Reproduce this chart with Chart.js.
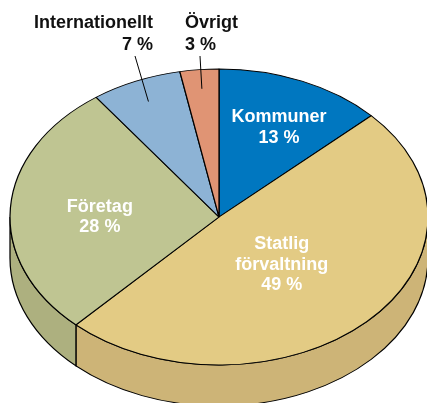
<!DOCTYPE html>
<html>
<head>
<meta charset="utf-8">
<script src="https://cdn.jsdelivr.net/npm/chart.js@4.4.0/dist/chart.umd.min.js"></script>
<style>
    html, body { margin: 0; padding: 0; background: #fff; overflow: hidden; }
    #wrap { width: 427px; height: 403px; position: relative; }
</style>
</head>
<body>
<div id="wrap"><canvas id="pie"></canvas></div>
<script>
// Share of total, percent
const categories = ['Kommuner', 'Statlig förvaltning', 'Företag', 'Internationellt', 'Övrigt'];
const labelLines = [['Kommuner'], ['Statlig', 'förvaltning'], ['Företag'], ['Internationellt'], ['Övrigt']];
const shares = [13, 49, 28, 7, 3];

const topColors = ['#0077c0', '#e3cb84', '#bfc592', '#8db3d5', '#e09474'];
const sideColors = ['#005f99', '#cdb477', '#adb07f', '#7a9cbb', '#c77f62'];

// Ellipse on screen (tilted disc)
const view = { cx: 219, cy: 217, rx: 209, ry: 148, depth: 41 };

// Inside labels: radial fraction along slice mid angle; outside labels: text anchor
const labelLayout = [
    { inside: true, f: 0.67, da: 2 },
    { inside: true, f: 0.44, da: 2 },
    { inside: true, f: 0.57, da: -3.6 },
    { inside: false, tx: 153, ty: 23, align: 'right', lx: 135, ly: 56, f: 0.85 },
    { inside: false, tx: 185, ty: 23, align: 'left', lx: 200, ly: 56, f: 0.87 }
];

function toScreen(angle, f) {
    return {
        x: view.cx + view.rx * f * Math.cos(angle),
        y: view.cy + view.ry * f * Math.sin(angle)
    };
}

const tiltPlugin = {
    id: 'tilt',
    beforeDatasetsDraw(chart) {
        const ctx = chart.ctx;
        const arcs = chart.getDatasetMeta(0).data;
        const first = arcs[0];
        const R = first.outerRadius;
        const sx = view.rx / R, sy = view.ry / R;
        ctx.save();
        ctx.translate(view.cx, view.cy);
        ctx.scale(sx, sy);
        ctx.translate(-first.x, -first.y);

        // side wall, front half only
        const d = view.depth / sy;
        arcs.forEach((arc, i) => {
            const s = Math.max(arc.startAngle, 0);
            const e = Math.min(arc.endAngle, Math.PI);
            if (e <= s) return;
            ctx.beginPath();
            ctx.arc(arc.x, arc.y, R, s, e);
            ctx.lineTo(arc.x + R * Math.cos(e), arc.y + R * Math.sin(e) + d);
            ctx.arc(arc.x, arc.y + d, R, e, s, true);
            ctx.closePath();
            ctx.fillStyle = sideColors[i];
            ctx.fill();
            ctx.lineWidth = 1.2;
            ctx.strokeStyle = '#000';
            ctx.stroke();
        });
    },
    afterDatasetsDraw(chart) {
        chart.ctx.restore();
    },
    afterDraw(chart) {
        const ctx = chart.ctx;
        const arcs = chart.getDatasetMeta(0).data;
        ctx.save();
        ctx.textAlign = 'center';
        ctx.textBaseline = 'middle';
        arcs.forEach((arc, i) => {
            const lay = labelLayout[i];
            const mid = (arc.startAngle + arc.endAngle) / 2;
            const lines = labelLines[i].concat([shares[i] + ' %']);
            if (lay.inside) {
                const p = toScreen(mid + lay.da * Math.PI / 180, lay.f);
                ctx.fillStyle = '#fff';
                ctx.font = 'bold 18px "Liberation Sans", Arial, sans-serif';
                const lh = 20.5;
                const y0 = p.y - (lines.length - 1) * lh / 2;
                lines.forEach((t, k) => ctx.fillText(t, p.x, y0 + k * lh));
            } else {
                const p = toScreen(mid, lay.f);
                ctx.beginPath();
                ctx.moveTo(lay.lx, lay.ly);
                ctx.lineTo(p.x, p.y);
                ctx.lineWidth = 1;
                ctx.strokeStyle = '#000';
                ctx.stroke();
                ctx.fillStyle = '#111';
                ctx.font = 'bold 18px "Liberation Sans", Arial, sans-serif';
                ctx.textAlign = lay.align;
                lines.forEach((t, k) => ctx.fillText(t, lay.tx, lay.ty + k * 22));
                ctx.textAlign = 'center';
            }
        });
        ctx.restore();
    }
};

new Chart(document.getElementById('pie'), {
    type: 'pie',
    data: {
        labels: categories,
        datasets: [{
            data: shares,
            backgroundColor: topColors,
            borderColor: '#000',
            borderWidth: 1.2,
            clip: false
        }]
    },
    options: {
        responsive: true,
        maintainAspectRatio: false,
        animation: false,
        events: [],
        plugins: {
            legend: { display: false },
            tooltip: { enabled: false }
        }
    },
    plugins: [tiltPlugin]
});
</script>
</body>
</html>
